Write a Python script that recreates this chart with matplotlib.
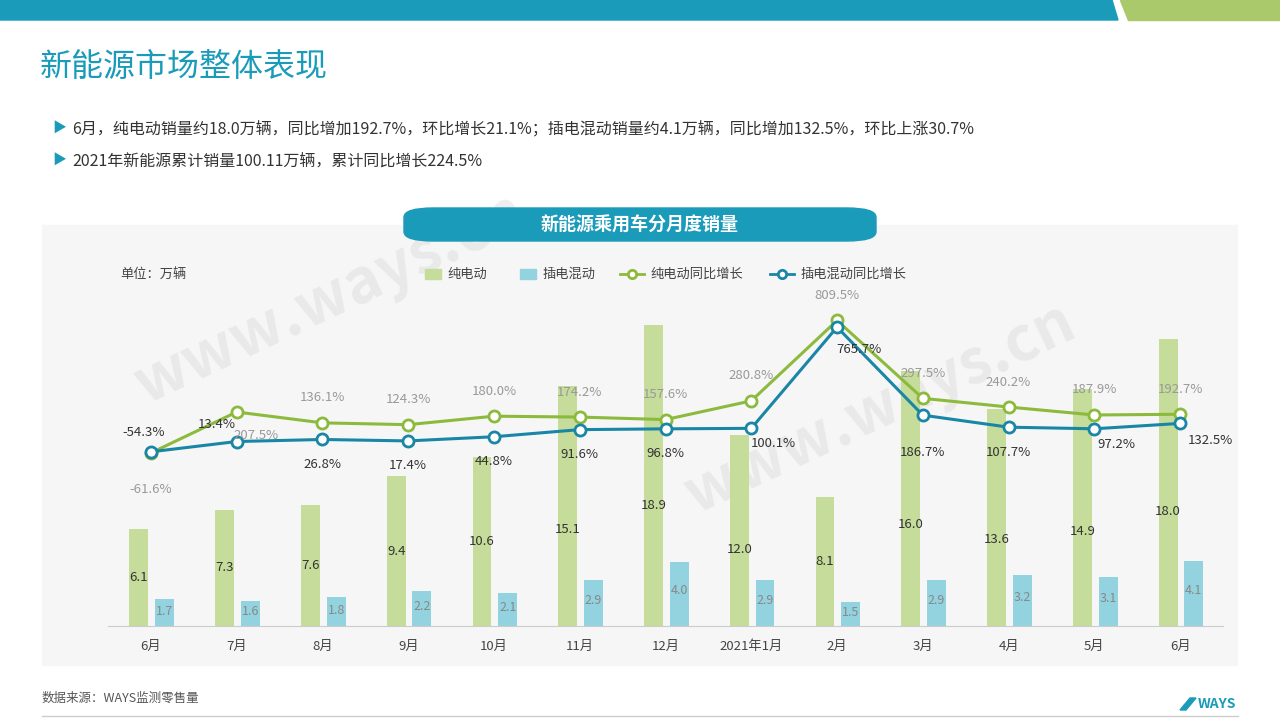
import numpy as np
import matplotlib.pyplot as plt
from matplotlib.patches import FancyBboxPatch, Rectangle, Polygon

plt.rcParams['font.family'] = ['Noto Sans CJK SC']

months = ['6月', '7月', '8月', '9月', '10月', '11月', '12月', '2021年1月', '2月', '3月', '4月', '5月', '6月']
bev = [6.1, 7.3, 7.6, 9.4, 10.6, 15.1, 18.9, 12.0, 8.1, 16.0, 13.6, 14.9, 18.0]
phev = [1.7, 1.6, 1.8, 2.2, 2.1, 2.9, 4.0, 2.9, 1.5, 2.9, 3.2, 3.1, 4.1]
bev_yoy = [-61.6, 207.5, 136.1, 124.3, 180.0, 174.2, 157.6, 280.8, 809.5, 297.5, 240.2, 187.9, 192.7]
phev_yoy = [-54.3, 13.4, 26.8, 17.4, 44.8, 91.6, 96.8, 100.1, 765.7, 186.7, 107.7, 97.2, 132.5]

TEAL = '#1a9bba'
GREEN = '#c5dc9a'
BLUE = '#93d3df'
LGREEN = '#8cba3c'
LBLUE = '#1a86a6'

fig = plt.figure(figsize=(12.8, 7.2), dpi=100)
W, H = 1280, 720
def fx(x): return x / W
def fy(y): return 1 - y / H

# top banner
fig.patches.append(Polygon([(0, 1), (fx(1112), 1), (fx(1118), fy(20)), (0, fy(20))],
                           closed=True, transform=fig.transFigure, color=TEAL))
fig.patches.append(Polygon([(fx(1120), 1), (1, 1), (1, fy(20)), (fx(1128), fy(20))],
                           closed=True, transform=fig.transFigure, color='#a9c96a'))
fig.text(fx(40), fy(67), '新能源市场整体表现', fontsize=23, color=TEAL, va='center')
for y, s in [(129, '6月，纯电动销量约18.0万辆，同比增加192.7%，环比增长21.1%；插电混动销量约4.1万辆，同比增加132.5%，环比上涨30.7%'),
             (161, '2021年新能源累计销量100.11万辆，累计同比增长224.5%')]:
    fig.text(fx(52), fy(y), '▶', fontsize=10, color=TEAL, va='center')
    fig.text(fx(72), fy(y), s, fontsize=11.5, color='#333333', va='center')

# gray panel
fig.patches.append(Rectangle((fx(42), fy(665)), fx(1195), 440 / H, transform=fig.transFigure,
                             color='#f6f6f6', zorder=-5))
fig.patches.append(FancyBboxPatch((fx(404), fy(241)), fx(472), 33 / H, boxstyle='round,pad=0,rounding_size=0.023',
                                  transform=fig.transFigure, color=TEAL, mutation_aspect=0.56))
fig.text(fx(640), fy(225), '新能源乘用车分月度销量', fontsize=13, color='white', weight='bold',
         ha='center', va='center')

# watermarks
for wx, wy in [(330, 300), (880, 410)]:
    fig.text(fx(wx), fy(wy), 'www.ways.cn', fontsize=44, color='#dddddd', alpha=0.5, rotation=25,
             ha='center', va='center', weight='bold', zorder=-4)

ax = fig.add_axes([fx(108), fy(626), fx(1115), 336 / H])
ax.set_zorder(2)
ax.patch.set_alpha(0)
x = np.arange(len(months))
ax.bar(x - 0.14, bev, width=0.22, color=GREEN)
ax.bar(x + 0.16, phev, width=0.22, color=BLUE)
for i in range(len(x)):
    ax.text(x[i] - 0.14, bev[i] * 0.5 if bev[i] < 12 else bev[i] * 0.4, f'{bev[i]:.1f}',
            ha='center', va='center', fontsize=9.5, color='#333333')
    ax.text(x[i] + 0.16, phev[i] * 0.55, f'{phev[i]:.1f}', ha='center', va='center',
            fontsize=9, color='#888888')
ax.set_xlim(-0.5, 12.5)
ax.set_ylim(0, 21.1)
ax.set_yticks([])
ax.set_xticks(x)
ax.set_xticklabels(months, fontsize=9.5, color='#444444')
ax.tick_params(axis='x', length=0, pad=10)
for s in ['top', 'right', 'left']:
    ax.spines[s].set_visible(False)
ax.spines['bottom'].set_color('#cccccc')

ax2 = ax.twinx()
ax2.set_zorder(3)
ax2.patch.set_alpha(0)
ax2.set_ylim(-1200, 1010)
ax2.set_yticks([])
for s in ax2.spines.values():
    s.set_visible(False)
ax2.plot(x, bev_yoy, color=LGREEN, lw=2.2, marker='o', ms=8, mfc='white', mew=2)
ax2.plot(x, phev_yoy, color=LBLUE, lw=2.2, marker='o', ms=8, mfc='white', mew=2)
for i in range(len(x)):
    goff = (0, 18)
    if i == 0:
        goff = (0, -26)
    elif i == 1:
        goff = (14, -17)
    ax2.annotate(f'{bev_yoy[i]:.1f}%', (x[i], bev_yoy[i]), xytext=goff, textcoords='offset points',
                 ha='center', va='center', fontsize=9.5, color='#999999')
for i in range(len(x)):
    off = (0, -18)
    if i == 0:
        off = (-5, 14)
    elif i == 1:
        off = (-14, 12)
    elif i in (7, 11):
        off = (16, -11)
    elif i == 8:
        off = (16, -16)
    elif i == 12:
        off = (22, -12)
    elif i == 9:
        off = (0, -27)
    ax2.annotate(f'{phev_yoy[i]:.1f}%', (x[i], phev_yoy[i]), xytext=off, textcoords='offset points',
                 ha='center', va='center', fontsize=9.5, color='#333333')

# legend
fig.text(fx(120), fy(274), '单位：万辆', fontsize=9.5, color='#444444', va='center')
lx = [(425, 'bar', GREEN, '纯电动'), (520, 'bar', BLUE, '插电混动'),
      (620, 'line', LGREEN, '纯电动同比增长'), (770, 'line', LBLUE, '插电混动同比增长')]
for px, kind, c, lab in lx:
    if kind == 'bar':
        fig.patches.append(Rectangle((fx(px), fy(279)), fx(16), 10 / H, transform=fig.transFigure, color=c))
        fig.text(fx(px + 22), fy(274), lab, fontsize=9.5, color='#444444', va='center')
    else:
        fig.lines.append(plt.Line2D([fx(px), fx(px + 24)], [fy(274)] * 2, transform=fig.transFigure, color=c, lw=2))
        fig.lines.append(plt.Line2D([fx(px + 12)], [fy(274)], transform=fig.transFigure, color=c,
                                    marker='o', ms=6, mfc='white', mew=2))
        fig.text(fx(px + 30), fy(274), lab, fontsize=9.5, color='#444444', va='center')

fig.text(fx(42), fy(698), '数据来源：WAYS监测零售量', fontsize=9, color='#555555', va='center')
fig.patches.append(Polygon([(fx(1180), fy(710)), (fx(1186), fy(710)), (fx(1196), fy(698)), (fx(1190), fy(698))],
                           closed=True, transform=fig.transFigure, color=TEAL))
fig.text(fx(1236), fy(704), 'WAYS', fontsize=10, color=TEAL, weight='bold', style='italic', ha='right', va='center')
fig.lines.append(plt.Line2D([fx(42), fx(1238)], [fy(716)] * 2, transform=fig.transFigure, color='#cccccc', lw=1))

fig.savefig('out.png', dpi=100)
